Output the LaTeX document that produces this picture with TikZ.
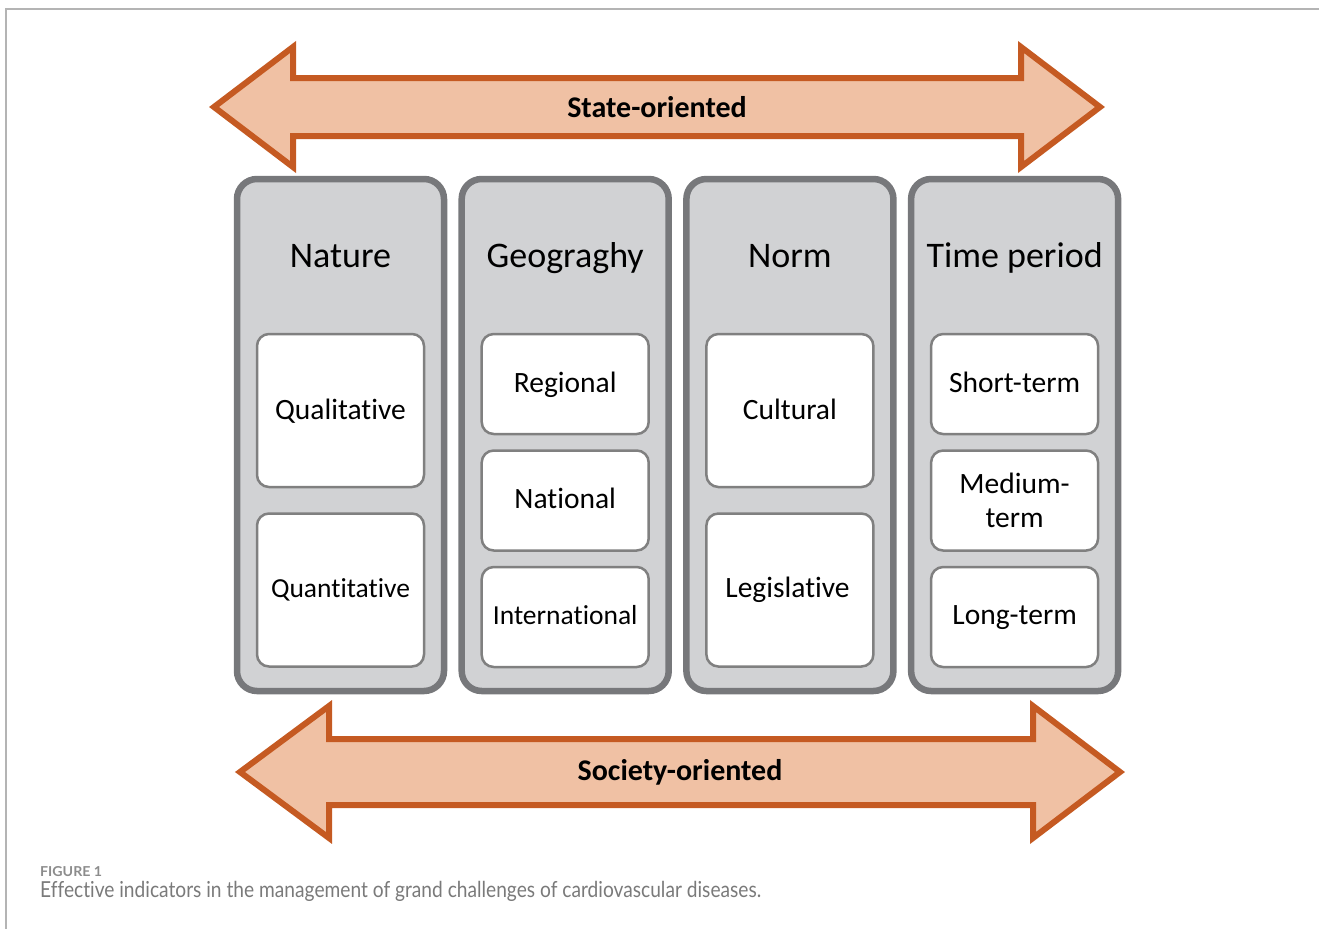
\documentclass[tikz,border=0pt]{standalone}
\usepackage{fontspec}
\setmainfont{Carlito}[Ligatures={NoCommon}]
\newfontfamily\capfont{Lato}[Ligatures={NoCommon}]
\definecolor{arrfill}{HTML}{F0C1A4}
\definecolor{arrline}{HTML}{C55A22}
\definecolor{colfill}{HTML}{D1D2D4}
\definecolor{colline}{HTML}{77787B}
\definecolor{boxline}{HTML}{808080}
\definecolor{framecol}{HTML}{B4B4B4}
\definecolor{capgray}{HTML}{7A7A7A}
\definecolor{figgray}{HTML}{8C8C8C}
\begin{document}
\begin{tikzpicture}[x=1pt,y=-1pt,
  bigarrow/.style={draw=arrline,fill=arrfill,line width=6pt,line join=miter},
  arrtext/.style={font=\fontsize{30}{34}\selectfont\bfseries,text=black,inner sep=0pt},
  column/.style={draw=colline,fill=colfill,line width=6.5pt,rounded corners=20pt,
    minimum width=207pt,minimum height=512pt,inner sep=0pt,outer sep=0pt},
  coltitle/.style={font=\fontsize{36}{40}\selectfont,text=black,inner sep=0pt,anchor=base},
  itembox/.style={draw=boxline,fill=white,line width=2.5pt,rounded corners=12pt,
    minimum width=167pt,inner sep=0pt},
  tallbox/.style={itembox,minimum height=153pt},
  shortbox/.style={itembox,minimum height=100pt},
  itemtext/.style={font=\fontsize{29.5}{34}\selectfont,text=black,inner sep=0pt,anchor=base,align=center},
  small/.style={font=\fontsize{27.5}{32}\selectfont}
]
\useasboundingbox (0,0) rectangle (1319,929);
% frame
\draw[framecol,line width=1.3pt] (1319,9) -- (6,9) -- (6,929);
% top arrow
\draw[bigarrow] (214,107) -- (293,47) -- (293,78) -- (1021,78) -- (1021,47) -- (1100,107)
  -- (1021,167) -- (1021,136) -- (293,136) -- (293,167) -- cycle;
\node[arrtext] (state) at (657,107) {State-oriented};
% bottom arrow
\draw[bigarrow] (240,772) -- (329,706) -- (329,739) -- (1033,739) -- (1033,706) -- (1120,772)
  -- (1033,838) -- (1033,805) -- (329,805) -- (329,838) -- cycle;
\node[arrtext] (society) at (680,772) {Society-oriented};
% columns
\node[column] (c1) at (340.5,435) {};
\node[column] (c2) at (565.2,435) {};
\node[column] (c3) at (789.9,435) {};
\node[column] (c4) at (1014.6,435) {};
\node[coltitle] (t1) at (340.5,267) {Nature};
\node[coltitle] (t2) at (565.2,267) {Geograghy};
\node[coltitle] (t3) at (789.9,267) {Norm};
\node[coltitle] (t4) at (1014.6,267) {Time period};
% Nature
\node[tallbox] (qual) at (340.5,410.5) {};
\node[tallbox] (quan) at (340.5,590) {};
\node[itemtext] (qualt) at (340.5,419) {Qualitative};
\node[itemtext,small] (quant) at (340.5,597) {Quantitative};
% Geography
\node[shortbox] (reg) at (565.2,384) {};
\node[shortbox] (nat) at (565.2,500.5) {};
\node[shortbox] (int) at (565.2,617) {};
\node[itemtext] (regt) at (565.2,392) {Regional};
\node[itemtext] (natt) at (565.2,508) {National};
\node[itemtext,small] (intt) at (565.2,624) {International};
% Norm
\node[tallbox] (cult) at (789.9,410.5) {};
\node[tallbox] (leg) at (789.9,590) {};
\node[itemtext] (cultt) at (789.9,419) {Cultural};
\node[itemtext] (legt) at (787.5,597) {Legislative};
% Time
\node[shortbox] (short) at (1014.6,384) {};
\node[shortbox] (med) at (1014.6,500.5) {};
\node[shortbox] (long) at (1014.6,617) {};
\node[itemtext] (shortt) at (1014.6,392) {Short-term};
\node[itemtext,anchor=center] (medt) at (1014.6,500.5) {Medium-\\term};
\node[itemtext] (longt) at (1014.6,624) {Long-term};
% caption
\node[anchor=base west,inner sep=0pt,text=figgray,font=\capfont\bfseries\fontsize{13}{15}\selectfont] (fig) at (40,876) {\resizebox{62pt}{10pt}{FIGURE 1}};
\node[anchor=base west,inner sep=0pt,text=capgray,font=\capfont\fontsize{18}{20}\selectfont] (cap) at (40,897) {\scalebox{1}[1.15]{\resizebox{721pt}{!}{Effective indicators in the management of grand challenges of cardiovascular diseases.}}};
\end{tikzpicture}
\end{document}
